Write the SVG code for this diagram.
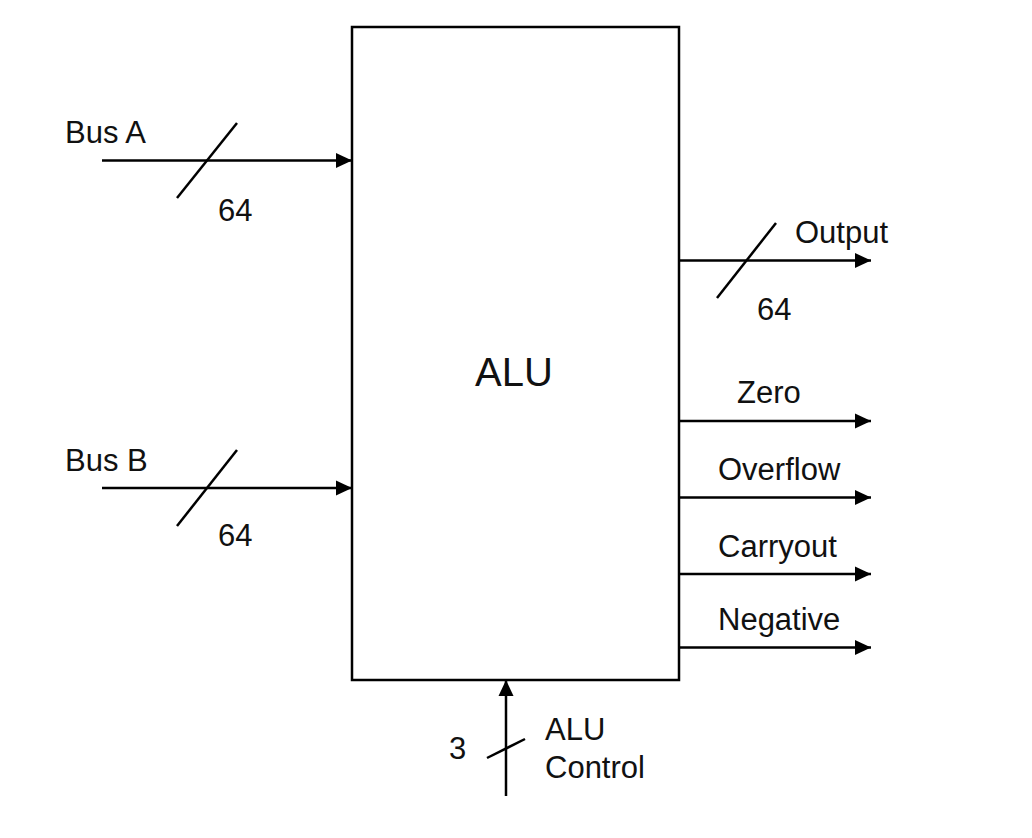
<svg xmlns="http://www.w3.org/2000/svg" width="1032" height="838" viewBox="0 0 1032 838">
<style>
.w{stroke:#000;stroke-width:2.5;fill:none}
.t{font-family:"Liberation Sans",Arial,sans-serif;font-size:31px;fill:#111}
</style>
<defs>
<marker id="ah" markerUnits="userSpaceOnUse" markerWidth="16" markerHeight="16" refX="16" refY="8" orient="auto">
<path d="M0,0.5 L16,8 L0,15.5 z" fill="#000"/>
</marker>
</defs>
<rect width="1032" height="838" fill="#fff"/>
<g id="alu">
<rect x="352" y="27" width="327" height="653" class="w"/>
<text x="514" y="386" class="t" style="font-size:40px" text-anchor="middle">ALU</text>
</g>
<g id="connectors">
<line x1="102" y1="160.5" x2="352" y2="160.5" class="w" marker-end="url(#ah)"/>
<line x1="177" y1="198" x2="237" y2="123" class="w"/>
<line x1="102" y1="488" x2="352" y2="488" class="w" marker-end="url(#ah)"/>
<line x1="177" y1="526" x2="237" y2="450" class="w"/>
<line x1="679" y1="260.5" x2="871" y2="260.5" class="w" marker-end="url(#ah)"/>
<line x1="717" y1="298" x2="776" y2="223" class="w"/>
<line x1="679" y1="421" x2="871" y2="421" class="w" marker-end="url(#ah)"/>
<line x1="679" y1="497.5" x2="871" y2="497.5" class="w" marker-end="url(#ah)"/>
<line x1="679" y1="574" x2="871" y2="574" class="w" marker-end="url(#ah)"/>
<line x1="679" y1="647.5" x2="871" y2="647.5" class="w" marker-end="url(#ah)"/>
<line x1="506" y1="796" x2="506" y2="680" class="w" marker-end="url(#ah)"/>
<line x1="487" y1="758" x2="525" y2="739" class="w"/>
</g>
<g id="labels">
<text x="65" y="143" class="t">Bus A</text>
<text x="218" y="221" class="t">64</text>
<text x="65" y="471" class="t">Bus B</text>
<text x="218" y="546" class="t">64</text>
<text x="795" y="243" class="t">Output</text>
<text x="757" y="320" class="t">64</text>
<text x="737" y="403" class="t">Zero</text>
<text x="718" y="480" class="t">Overflow</text>
<text x="718" y="557" class="t">Carryout</text>
<text x="718" y="630" class="t">Negative</text>
<text x="449" y="759" class="t">3</text>
<text x="545" y="740" class="t">ALU</text>
<text x="545" y="778" class="t">Control</text>
</g>
</svg>
